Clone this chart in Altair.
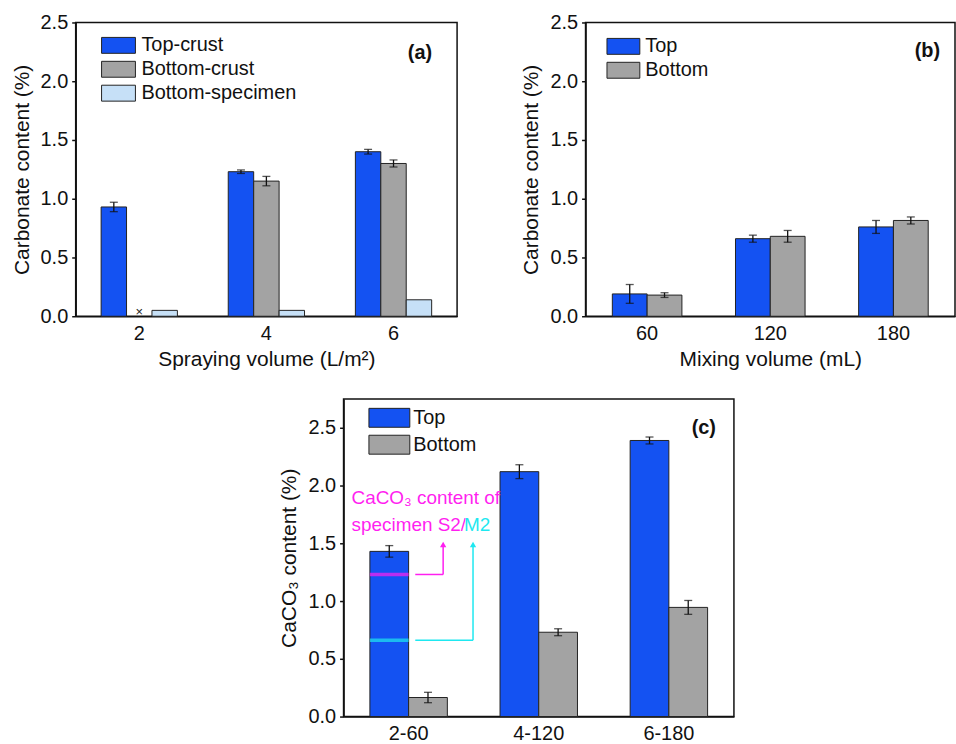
import altair as alt
import pandas as pd

FONT = "Liberation Sans"

# ---------------- Panel (a) ----------------
a_categories = ["2", "4", "6"]
a_series = ["Top-crust", "Bottom-crust", "Bottom-specimen"]
a_top_crust = [0.93, 1.23, 1.40]
a_top_crust_err = [0.04, 0.015, 0.02]
a_bottom_crust = [None, 1.15, 1.30]
a_bottom_crust_err = [None, 0.04, 0.03]
a_bottom_specimen = [0.05, 0.05, 0.14]
a_bottom_specimen_err = [None, None, None]
a_missing_value = 0.04  # "×" marking the missing bottom-crust value at 2 L/m²
a_colors = ["#1452f2", "#a3a3a3", "#c6e0f7"]

# ---------------- Panel (b) ----------------
b_categories = ["60", "120", "180"]
b_series = ["Top", "Bottom"]
b_top = [0.19, 0.66, 0.76]
b_top_err = [0.08, 0.03, 0.055]
b_bottom = [0.18, 0.68, 0.815]
b_bottom_err = [0.02, 0.05, 0.03]
b_colors = ["#1452f2", "#a3a3a3"]

# ---------------- Panel (c) ----------------
c_categories = ["2-60", "4-120", "6-180"]
c_series = ["Top", "Bottom"]
c_top = [1.43, 2.12, 2.39]
c_top_err = [0.05, 0.06, 0.03]
c_bottom = [0.165, 0.73, 0.945]
c_bottom_err = [0.045, 0.03, 0.06]
c_colors = ["#1452f2", "#a3a3a3"]
c_s2_value = 1.23   # CaCO3 content of specimen S2
c_m2_value = 0.66   # CaCO3 content of specimen M2
c_arrow_top = 1.49
c_text_line1_y = 1.89
c_text_line2_y = 1.655

y_ticks = [0.0, 0.5, 1.0, 1.5, 2.0, 2.5]

LBL = 20
TTL = 21


def make_long(cats, series, values, errs):
    rows = []
    for s, vals, es in zip(series, values, errs):
        for c, v, e in zip(cats, vals, es):
            if v is None:
                continue
            rows.append({
                "cat": c, "series": s, "value": v,
                "lo": (v - e) if e is not None else None,
                "hi": (v + e) if e is not None else None,
            })
    return pd.DataFrame(rows)


def panel(df, cats, series, colors, ymax, xtitle, ytitle,
          po, legend_x, legend_y, sym_path, sym_size, label, label_x, label_y,
          label_offset, row_padding):
    x = alt.X("cat:N", sort=cats,
              scale=alt.Scale(domain=cats, paddingInner=0, paddingOuter=0),
              axis=alt.Axis(title=xtitle, labelAngle=0, ticks=False,
                            labelPadding=7, titlePadding=5))
    xo = alt.XOffset("series:N", sort=series,
                     scale=alt.Scale(domain=series, paddingInner=0, paddingOuter=po))
    yscale = alt.Scale(domain=[0, ymax], nice=False, zero=True)
    yaxis = alt.Axis(title=ytitle, values=y_ticks, format=".1f",
                     titlePadding=8, labelPadding=4)
    base = alt.Chart(df)
    bars = base.mark_bar(stroke="#222222", strokeWidth=1).encode(
        x=x, xOffset=xo,
        y=alt.Y("value:Q", scale=yscale, axis=yaxis),
        fill=alt.Fill("series:N", sort=series,
                      scale=alt.Scale(domain=series, range=colors),
                      legend=alt.Legend(title=None, orient="none",
                                        legendX=legend_x, legendY=legend_y,
                                        symbolType=sym_path, symbolSize=sym_size,
                                        symbolStrokeColor="#222222",
                                        symbolStrokeWidth=1, symbolOpacity=1,
                                        labelFont=FONT, labelFontSize=LBL,
                                        labelColor="#111111",
                                        labelOffset=label_offset,
                                        rowPadding=row_padding)),
    )
    eb = base.transform_filter("isValid(datum.lo)")
    rules = eb.mark_rule(color="#111111", strokeWidth=1.3).encode(
        x=x, xOffset=xo, y=alt.Y("lo:Q", scale=yscale), y2="hi:Q")
    cap_lo = eb.mark_tick(color="#111111", size=8, thickness=1.3).encode(
        x=x, xOffset=xo, y=alt.Y("lo:Q", scale=yscale))
    cap_hi = eb.mark_tick(color="#111111", size=8, thickness=1.3).encode(
        x=x, xOffset=xo, y=alt.Y("hi:Q", scale=yscale))
    lab = alt.Chart(pd.DataFrame({"t": [label]})).mark_text(
        font=FONT, fontSize=LBL, fontWeight="bold", align="right",
        baseline="middle", color="#111111").encode(
        text="t:N", x=alt.value(label_x), y=alt.value(label_y))
    layers = [bars, rules, cap_lo, cap_hi, lab]
    return layers, x, xo, yscale


# ---- (a)
df_a = make_long(a_categories, a_series,
                 [a_top_crust, a_bottom_crust, a_bottom_specimen],
                 [a_top_crust_err, a_bottom_crust_err, a_bottom_specimen_err])
layers_a, xa, xoa, ysa = panel(
    df_a, a_categories, a_series, a_colors, 2.5,
    "Spraying volume (L/m²)", "Carbonate content (%)", 1.0,
    33, 13, "M-2,-0.94L2,-0.94L2,0.94L-2,0.94Z", 289, "(a)", 358, 31, 13, 4)
marker_a = alt.Chart(pd.DataFrame({"cat": ["2"], "series": ["Bottom-crust"],
                                   "value": [a_missing_value]})).mark_text(
    text="×", fontSize=13, font=FONT, color="#222222", baseline="middle").encode(
    x=xa, xOffset=xoa, y=alt.Y("value:Q", scale=ysa))
chart_a = alt.layer(*layers_a, marker_a).properties(width=383, height=295)

# ---- (b)
df_b = make_long(b_categories, b_series, [b_top, b_bottom], [b_top_err, b_bottom_err])
layers_b, xb, xob, ysb = panel(
    df_b, b_categories, b_series, b_colors, 2.5,
    "Mixing volume (mL)", "Carbonate content (%)", 0.77,
    28, 14, "M-1.94,-0.94L1.94,-0.94L1.94,0.94L-1.94,0.94Z", 289, "(b)", 356, 29, 12, 4)
chart_b = alt.layer(*layers_b).properties(width=371, height=295)

# ---- (c)
df_c = make_long(c_categories, c_series, [c_top, c_bottom], [c_top_err, c_bottom_err])
layers_c, xc, xoc, ysc = panel(
    df_c, c_categories, c_series, c_colors, 2.75,
    None, "CaCO₃ content (%)", 0.68,
    36, 9, "M-2.16,-1L2.16,-1L2.16,1L-2.16,1Z", 361, "(c)", 374, 29, 14, 3)

MAG = "#ff1ff0"
CYA = "#1ee8f0"
ann = pd.DataFrame({"cat": ["2-60", "2-60"], "series": ["Top", "Top"],
                    "value": [c_s2_value, c_m2_value], "which": ["S2", "M2"],
                    "top": [c_arrow_top, c_arrow_top]})
col_scale = alt.Scale(domain=["S2", "M2"], range=[MAG, CYA])
thick = alt.Chart(ann).mark_tick(size=39, thickness=3.5).encode(
    x=xc, xOffset=xoc, y=alt.Y("value:Q", scale=ysc),
    color=alt.Color("which:N", scale=col_scale, legend=None))
s2 = ann[ann.which == "S2"]
m2 = ann[ann.which == "M2"]
conn = []
for d, col, xv in [(s2, MAG, 100), (m2, CYA, 130)]:
    conn.append(alt.Chart(d).mark_rule(color=col, strokeWidth=1.5).encode(
        x=alt.value(72), x2=alt.value(xv), y=alt.Y("value:Q", scale=ysc)))
    conn.append(alt.Chart(d).mark_rule(color=col, strokeWidth=1.5).encode(
        x=alt.value(xv), y=alt.Y("value:Q", scale=ysc), y2="top:Q"))
    conn.append(alt.Chart(d).mark_point(shape="triangle-up", filled=True, color=col,
                                        size=40, opacity=1).encode(
        x=alt.value(xv), y=alt.Y("top:Q", scale=ysc)))
txt = pd.DataFrame({"t": ["CaCO₃ content of", "specimen S2/", "M2"],
                    "y": [c_text_line1_y, c_text_line2_y, c_text_line2_y],
                    "which": ["S2", "S2", "M2"],
                    "px": [8, 8, 121]})
texts = []
for i in range(3):
    texts.append(alt.Chart(txt.iloc[[i]]).mark_text(
        font=FONT, fontSize=19, align="left", baseline="middle").encode(
        text="t:N", x=alt.value(int(txt.px[i])), y=alt.Y("y:Q", scale=ysc),
        color=alt.Color("which:N", scale=col_scale, legend=None)))
chart_c = alt.layer(*layers_c, thick, *conn, *texts).properties(width=392, height=319)

spacer = alt.Chart(pd.DataFrame({"v": [0]})).mark_point(opacity=0).encode(
    x=alt.value(0), y=alt.value(0)).properties(
    width=202, height=10, view=alt.ViewBackground(stroke="transparent"))

IND = dict(x="independent", y="independent", xOffset="independent",
           fill="independent", color="independent")

top_row = alt.hconcat(chart_a, chart_b, spacing=62).resolve_scale(**IND)
bottom_row = alt.hconcat(spacer, chart_c, spacing=0).resolve_scale(**IND)
chart = alt.vconcat(top_row, bottom_row, spacing=25).resolve_scale(**IND).properties(
    padding={"left": 10, "top": 10, "right": 0, "bottom": 0},
    background="white",
).configure(font=FONT).configure_view(
    stroke="#111111", strokeWidth=1.5
).configure_axis(
    labelFont=FONT, titleFont=FONT, labelFontSize=LBL, titleFontSize=TTL,
    titleFontWeight="normal", labelColor="#111111", titleColor="#111111",
    domainColor="#111111", domainWidth=1.5, tickColor="#111111",
    tickSize=4, tickWidth=1.5, grid=False,
)

chart.save("out.html", embed_options={"renderer": "svg", "actions": False})
